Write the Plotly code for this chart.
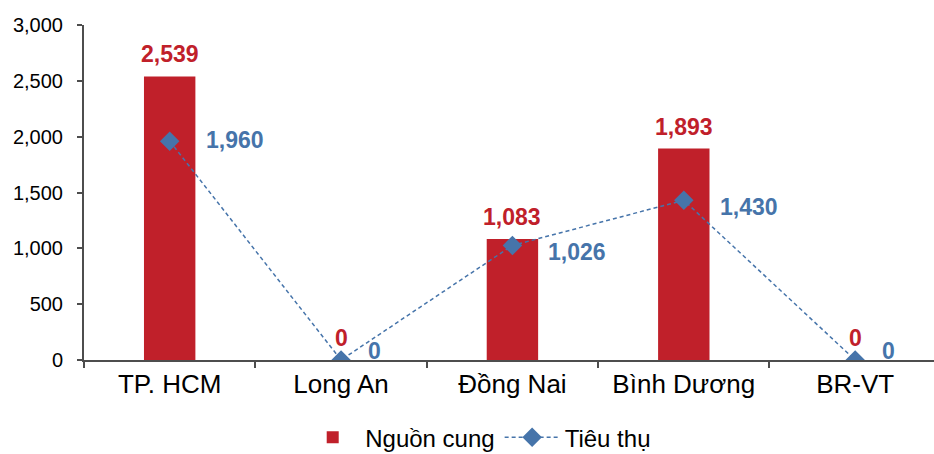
import plotly.graph_objects as go

categories = ["TP. HCM", "Long An", "Đồng Nai", "Bình Dương", "BR-VT"]
supply = [2539, 0, 1083, 1893, 0]        # Nguồn cung
consumption = [1960, 0, 1026, 1430, 0]   # Tiêu thụ
y_ticks = [0, 500, 1000, 1500, 2000, 2500, 3000]

RED = "#C0202A"
BLUE = "#4674AA"
FONT = "Liberation Sans, Arial, sans-serif"

# label style offsets (pixels)
line_label_dy = [1, 9, -7, -7, 9]

fig = go.Figure()
fig.add_trace(go.Bar(
    x=categories, y=supply, name="Nguồn cung",
    marker=dict(color=RED, line=dict(width=0)), width=0.3,
))
fig.add_trace(go.Scatter(
    x=categories, y=consumption, name="Tiêu thụ", mode="lines+markers",
    line=dict(color=BLUE, width=1.5, dash="4px,3px"),
    marker=dict(symbol="diamond", size=15, color=BLUE),
))

annotations = []
for c, v in zip(categories, supply):
    annotations.append(dict(
        x=c, y=v, xref="x", yref="y", text=f"<b>{v:,}</b>", showarrow=False,
        yanchor="middle", xanchor="center", yshift=22,
        font=dict(family=FONT, size=23, color=RED),
    ))
for c, v, dy in zip(categories, consumption, line_label_dy):
    annotations.append(dict(
        x=c, y=v, xref="x", yref="y", text=f"<b>{v:,}</b>", showarrow=False,
        yanchor="middle", xanchor="left", xshift=(25 if v == 0 else 34), yshift=dy,
        font=dict(family=FONT, size=23, color=BLUE),
    ))

fig.update_layout(
    width=934, height=454,
    margin=dict(l=84, r=0, t=25, b=94, pad=0, autoexpand=False),
    paper_bgcolor="white", plot_bgcolor="white",
    font=dict(family=FONT, color="black"),
    showlegend=True,
    legend=dict(
        orientation="h", x=0.512, xanchor="center", xref="container",
        y=0.036, yanchor="middle", yref="container",
        font=dict(family=FONT, size=24, color="black"),
        itemwidth=55, traceorder="normal", bgcolor="rgba(0,0,0,0)",
    ),
    xaxis=dict(
        type="category", range=[-0.5, 4.46], showgrid=False,
        showline=True, linecolor="#4D4D4D", linewidth=2,
        ticks="outside", tickson="boundaries", ticklen=6, tickcolor="#4D4D4D", tickwidth=2,
        tickfont=dict(family=FONT, size=26, color="black"),
    ),
    yaxis=dict(
        range=[0, 3000], tickvals=y_ticks, tickformat=",", showgrid=False,
        showline=True, linecolor="#4D4D4D", linewidth=2, zeroline=False,
        ticks="outside", ticklen=5, tickcolor="#4D4D4D", tickwidth=2,
        ticklabelstandoff=10,
        tickfont=dict(family=FONT, size=20, color="black"),
    ),
    annotations=annotations,
)

fig.write_html("out.html")
